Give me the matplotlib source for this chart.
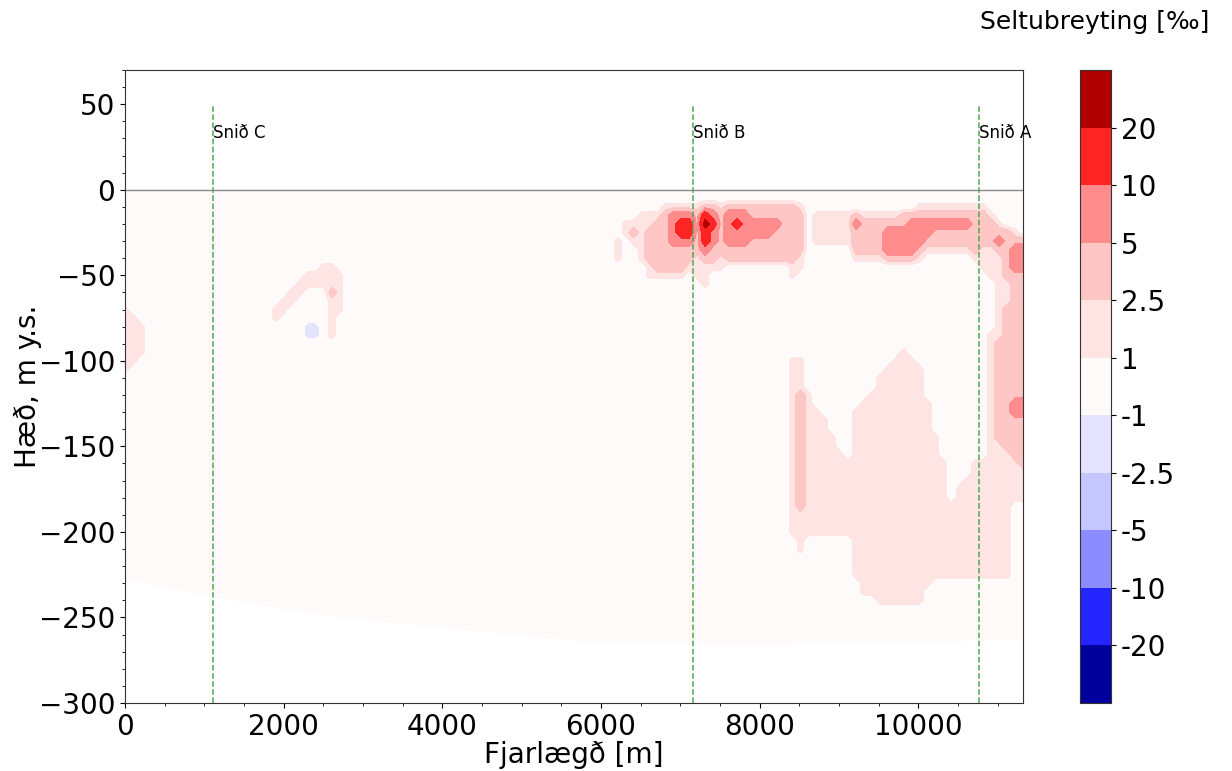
import numpy as np
import matplotlib
matplotlib.use("Agg")
import matplotlib.pyplot as plt
from matplotlib.patches import Polygon
from matplotlib.ticker import MultipleLocator
from matplotlib.colors import ListedColormap, BoundaryNorm

# ---------------- data ----------------
levels = [-30, -20, -10, -5, -2.5, -1, 1, 2.5, 5, 10, 20, 30]
tick_labels = ["-20", "-10", "-5", "-2.5", "-1", "1", "2.5", "5", "10", "20"]
band_colors = ["#00009c", "#2424ff", "#8c8cff", "#c6c6ff", "#e4e4ff", "#fffafa",
               "#ffe4e4", "#ffc6c6", "#ff8c8c", "#ff2424", "#b00000"]

# band codes used in the grid maps (value in per mille)
code_values = {".": 0.0, "1": 1.75, "2": 3.75, "3": 7.5, "4": 15.0, "5": 25.0, "b": -1.75}

# node spacing of the read-off grid: 100 m horizontally, 5 m vertically (rows 0 .. -245 m)
x_step = 100
z_step = 5
x_max = 11320

# columns 0-29 (0 - 2900 m)
field_left = [
    ".......... .......... ..........",
    ".......... .......... ..........",
    ".......... .......... ..........",
    ".......... .......... ..........",
    ".......... .......... ..........",
    ".......... .......... ..........",
    ".......... .......... ..........",
    ".......... .......... ..........",
    ".......... .......... ..........",
    ".......... .......... .....11...",
    ".......... .......... ...11111..",
    ".......... .......... ..111111..",
    ".......... .......... .11...21..",
    ".......... .......... 11....11..",
    "1......... .........1 1.....11..",
    "11........ .........1 ......1...",
    "111....... .......... ...bb.1...",
    "111....... .......... ...bb.1...",
    "111....... .......... ..........",
    "111....... .......... ..........",
    "11........ .......... ..........",
    "1......... .......... ..........",
] + [".......... .......... .........."] * 28

# columns 30-59 (3000 - 5900 m) carry no anomaly
n_quiet_cols = 30

# columns 60-113 (6000 - 11300 m)
field_right = [
    ".......... .......... .......... .......... .......... ....",
    ".......... .......... .......... .......... .......... ....",
    "........11 1112212222 222221.... .......... 111111111. ....",
    ".....11123 3324323332 222222.111 1121111122 2222222221 ....",
    "...1111223 4425423433 333222.111 1132222223 3333333222 1...",
    "...1212223 4424323333 332222.111 1122223333 3322222222 221.",
    "..1.112223 3324323332 222222.111 1122223333 3222222222 3222",
    "..1..12222 2223222222 222222.... ..22223333 2111111211 2233",
    "..1..12222 2212212222 222221.... ..11112222 1......111 1233",
    "......1222 211111.... ....11.... .......... ........11 1233",
    "......1111 1.11...... ....1..... .......... .........1 1222",
    ".......... ...1...... .......... .......... .......... 1122",
    ".......... .......... .......... .......... .......... 1122",
    ".......... .......... .......... .......... .......... 1122",
    ".......... .......... .......... .......... .......... 1222",
    ".......... .......... .......... .......... .......... 1222",
    ".......... .......... .......... .......... .......... 1222",
    ".......... .......... .......... .......... .........1 1222",
    ".......... .......... .......... .......... .........1 2222",
    ".......... .......... .......... ........1. .........1 2222",
    ".......... .......... ....11.... .......111 .........1 2222",
    ".......... .......... ....11.... ......1111 1........1 2222",
    ".......... .......... ....11.... .....11111 1........1 2222",
    ".......... .......... ....11.... .....11111 1........1 2222",
    ".......... .......... ....121... ....111111 1........1 2222",
    ".......... .......... ....121... ...1111111 11.......1 2233",
    ".......... .......... ....1211.. ..11111111 11.......1 2233",
    ".......... .......... ....12111. ..11111111 11.......1 2222",
    ".......... .......... ....12111. ..11111111 11.......1 2222",
    ".......... .......... ....121111 ..11111111 111......1 2222",
    ".......... .......... ....121111 ..11111111 111......1 1222",
    ".......... .......... ....121111 1.11111111 111......1 1122",
    ".......... .......... ....121111 1111111111 1111...111 1112",
    ".......... .......... ....121111 1111111111 1111...111 1111",
    ".......... .......... ....121111 1111111111 1111..1111 1111",
    ".......... .......... ....121111 1111111111 1111.11111 1111",
    ".......... .......... ....121111 1111111111 1111.11111 1111",
    ".......... .......... ....121111 1111111111 1111111111 11..",
    ".......... .......... ....111111 1111111111 1111111111 11..",
    ".......... .......... ....111111 1111111111 1111111111 11..",
    ".......... .......... ....111111 1111111111 1111111111 11..",
    ".......... .......... .....1.... ..11111111 1111111111 11..",
    ".......... .......... .....1.... ..11111111 1111111111 11..",
    ".......... .......... .......... ..11111111 1111111111 11..",
    ".......... .......... .......... ..11111111 1111111111 11..",
    ".......... .......... .......... ..11111111 1111111111 11..",
    ".......... .......... .......... ...1111111 11........ ....",
    ".......... .......... .......... ...1111111 1......... ....",
    ".......... .......... .......... .....11111 1......... ....",
    ".......... .......... .......... .......... .......... ....",
]

# lower edge of the model domain
bottom_x = [0, 1100, 2500, 4200, 6000, 8000, 11320]
bottom_z = [-228, -238, -249, -257, -265, -266, -263]

# section lines
section_x = [1110, 7160, 10760]
section_names = ["Snið C", "Snið B", "Snið A"]

# ---------------- build grid ----------------
rows = []
for left, right in zip(field_left, field_right):
    s = left.replace(" ", "") + "." * n_quiet_cols + right.replace(" ", "")
    assert len(s) == 114, len(s)
    rows.append([code_values[c] for c in s])
field = np.array(rows)
# background (0) rows below the read-off grid, down to the domain floor
field = np.vstack([field, np.zeros((6, field.shape[1]))])
ncols = field.shape[1]
x_nodes = np.linspace(0, x_max, ncols)
z_nodes = -z_step * np.arange(field.shape[0])

# ---------------- figure ----------------
fig = plt.figure(figsize=(12.32, 7.71), dpi=100)
ax = fig.add_axes([125 / 1232, 1 - 703 / 771, 898 / 1232, 633 / 771])
cax = fig.add_axes([1080 / 1232, 1 - 703 / 771, 31 / 1232, 633 / 771])

cmap = ListedColormap(band_colors)
norm = BoundaryNorm(levels, cmap.N)
cs = ax.contourf(x_nodes, z_nodes, field, levels=levels, cmap=cmap, norm=norm)
verts = [(0, 0), (x_max, 0)] + list(zip(bottom_x[::-1], bottom_z[::-1]))
domain = Polygon(verts, closed=True, transform=ax.transData,
                 facecolor="none", edgecolor="none")
cs.set_clip_path(domain)

ax.axhline(0, color="#8a8a8a", lw=1.0)
for xs, name in zip(section_x, section_names):
    ax.vlines(xs, -300, 50, colors="#4ea94e", linestyles="--", lw=1.1)
    ax.text(xs, 33, name, fontsize=12, ha="left", va="center")

ax.set_xlim(0, x_max)
ax.set_ylim(-300, 70)
ax.set_xticks([0, 2000, 4000, 6000, 8000, 10000])
ax.set_yticks([-300, -250, -200, -150, -100, -50, 0, 50])
ax.xaxis.set_minor_locator(MultipleLocator(500))
ax.yaxis.set_minor_locator(MultipleLocator(10))
ax.tick_params(axis="both", which="major", labelsize=20)
ax.set_xlabel("Fjarlægð [m]", fontsize=20, labelpad=0)
ax.set_ylabel("Hæð, m y.s.", fontsize=20, labelpad=-2)
for sp in ax.spines.values():
    sp.set_color("#333333")

# colour bar with equally spaced bands (one per contour layer)
n_bands = len(band_colors)
for i, c in enumerate(band_colors):
    cax.bar(0.5, 1, bottom=i, width=1, color=c, edgecolor="none")
cax.set_xlim(0, 1)
cax.set_ylim(0, n_bands)
cax.set_xticks([])
cax.yaxis.tick_right()
cax.set_yticks(np.arange(1, n_bands))
cax.set_yticklabels(tick_labels)
cax.tick_params(axis="y", labelsize=20)
for sp in cax.spines.values():
    sp.set_color("#333333")
fig.text(1095 / 1232, 1 - 22 / 771, "Seltubreyting [‰]", fontsize=18,
         ha="center", va="center")

fig.savefig("out.png", dpi=100)
